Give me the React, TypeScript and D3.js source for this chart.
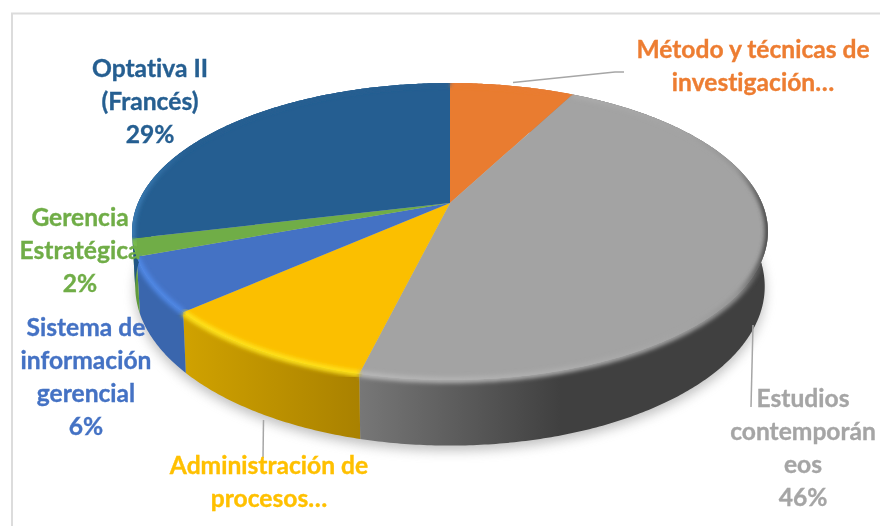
import React from "react";
import * as d3 from "d3";

const categories = ["Método y técnicas de investigación…", "Estudios contemporáneos", "Administración de procesos…", "Sistema de información gerencial", "Gerencia Estratégica", "Optativa II (Francés)"];
const values = [7.6, 46.2, 9.6, 5.9, 1.9, 28.8];
const colors = ["#e97c30", "#a3a3a3", "#fbbf00", "#4472c4", "#70ad47", "#255e91"];
const bevels = ["#e97c30", "url(#bevelGray)", "#ffe31a", "#4f88e6", "#7cc050", "url(#bevelNavy)"];
const labelLines = [
  ["Método y técnicas de", "investigación…"],
  ["Estudios", "contemporán", "eos", "46%"],
  ["Administración de", "procesos…"],
  ["Sistema de", "información", "gerencial", "6%"],
  ["Gerencia", "Estratégica", "2%"],
  ["Optativa II", "(Francés)", "29%"],
];
const labelColors = ["#ed7d31", "#a5a5a5", "#ffc000", "#4472c4", "#70ad47", "#255e91"];
const labelAnchors: [number, number][] = [[753, 58], [803, 407], [269, 474], [86, 336], [80, 226], [150, 77]];
const leaders: [number, number][][] = [
  [[513, 82.5], [615, 72], [624, 72]],
  [[753, 325], [751, 407]],
  [[263.5, 420], [263, 458]],
];

const CX = 450, CY = 203, B = 312, A = 143, K = 0.192, H = 53, SHRINK = 0.99;

const rim = (a: number, bottom = false): [number, number] => {
  const u = Math.sin(a), v = -Math.cos(a), d = 1 - K * v;
  const s = bottom ? SHRINK : 1;
  return [CX + (B * s * u) / d, CY + (A * v) / d + (bottom ? H / d : 0)];
};
const arcAngles = (a0: number, a1: number) => {
  const n = Math.max(2, Math.ceil((a1 - a0) / 0.01));
  return d3.range(n + 1).map((i) => a0 + ((a1 - a0) * i) / n);
};
const line = d3.line<[number, number]>().x((d) => d[0]).y((d) => d[1]);

const slices = d3.pie<number>().sort(null).startAngle(0).endAngle(2 * Math.PI)(values);
const full = arcAngles(0, 2 * Math.PI);
const topOutline = full.map((a) => rim(a));
const bottomOutline = full.map((a) => rim(a, true));

const wallStops: Record<number, [string, string]> = {
  1: ["#777777", "#404040"],
  2: ["#cfa100", "#a98100"],
  3: ["#3a66ad", "#3a64a8"],
  4: ["#5f9a3b", "#5f9a3b"],
  5: ["#215585", "#215585"],
  0: ["#c96a28", "#c96a28"],
};

export default function App() {
  return (
    <svg width={880} height={526} style={{ position: "fixed", left: 0, top: 0, background: "#fff", fontVariantLigatures: "none" }} fontFamily="Lato, Carlito, sans-serif">
      <defs>
        <filter id="shadow" x="-10%" y="-10%" width="120%" height="130%"><feGaussianBlur stdDeviation="6" /></filter>
        <filter id="soft" x="-5%" y="-5%" width="110%" height="110%"><feGaussianBlur stdDeviation="2" /></filter>
        <filter id="txt"><feGaussianBlur stdDeviation="0.35" /></filter>
        <clipPath id="pieClip"><path d={line(topOutline)! + "Z"} /><path d={line(bottomOutline)! + "Z"} /></clipPath>
        <linearGradient id="bevelGray" gradientUnits="userSpaceOnUse" x1={360} x2={770} y1={0} y2={0}>
          <stop offset="0" stopColor="#b8b8b8" />
          <stop offset="0.5" stopColor="#adadad" />
          <stop offset="0.8" stopColor="#a3a3a3" />
          <stop offset="0.92" stopColor="#939393" />
          <stop offset="1" stopColor="#3c3c3c" />
        </linearGradient>
        <linearGradient id="bevelNavy" gradientUnits="userSpaceOnUse" x1={131} x2={190} y1={0} y2={0}>
          <stop offset="0" stopColor="#3d7fb8" />
          <stop offset="1" stopColor="#255e91" />
        </linearGradient>
        <linearGradient id="wall1" gradientUnits="userSpaceOnUse" x1={360} x2={560} y1={0} y2={0}>
          <stop offset="0" stopColor={wallStops[1][0]} /><stop offset="1" stopColor={wallStops[1][1]} />
        </linearGradient>
        <linearGradient id="wall2" gradientUnits="userSpaceOnUse" x1={188} x2={360} y1={0} y2={0}>
          <stop offset="0" stopColor={wallStops[2][0]} /><stop offset="1" stopColor={wallStops[2][1]} />
        </linearGradient>
      </defs>
      <rect x={12} y={13.5} width={900} height={540} fill="#fff" stroke="#dcdcdc" strokeWidth={2} />
      <path d={line(bottomOutline)! + "Z"} fill="#8a8a8a" opacity={0.55} filter="url(#shadow)" transform="translate(0,5)" />
      {slices.map((s, i) => {
        const ang = arcAngles(s.startAngle, s.endAngle);
        const pts = [...ang.map((a) => rim(a)), ...ang.slice().reverse().map((a) => rim(a, true))];
        const fill = i === 1 ? "url(#wall1)" : i === 2 ? "url(#wall2)" : wallStops[i][0];
        return <path key={"w" + i} d={line(pts)! + "Z"} fill={fill} />;
      })}
      {slices.map((s, i) => {
        const ang = arcAngles(s.startAngle, s.endAngle);
        const pts: [number, number][] = [[CX, CY], ...ang.map((a) => rim(a))];
        return <path key={"t" + i} d={line(pts)! + "Z"} fill={colors[i]} />;
      })}
      <g clipPath="url(#pieClip)">
        {slices.map((s, i) => {
          const ang = arcAngles(s.startAngle, s.endAngle);
          return <path key={"b" + i} d={line(ang.map((a) => rim(a)))!} fill="none" stroke={bevels[i]} strokeWidth={6} filter="url(#soft)" />;
        })}
      </g>
      {leaders.map((l, i) => (
        <path key={"l" + i} d={line(l)!} fill="none" stroke="#a6a6a6" strokeWidth={1.5} />
      ))}
      <g filter="url(#txt)">
        {categories.map((c, i) => (
          <text key={c} x={labelAnchors[i][0]} y={labelAnchors[i][1]} textAnchor="middle" fontWeight={700} fontSize={24.6} fill={labelColors[i]} stroke={labelColors[i]} strokeWidth={0.35}>
            {labelLines[i].map((t, j) => (
              <tspan key={j} x={labelAnchors[i][0]} y={labelAnchors[i][1] + j * 33}>{t}</tspan>
            ))}
          </text>
        ))}
      </g>
    </svg>
  );
}
